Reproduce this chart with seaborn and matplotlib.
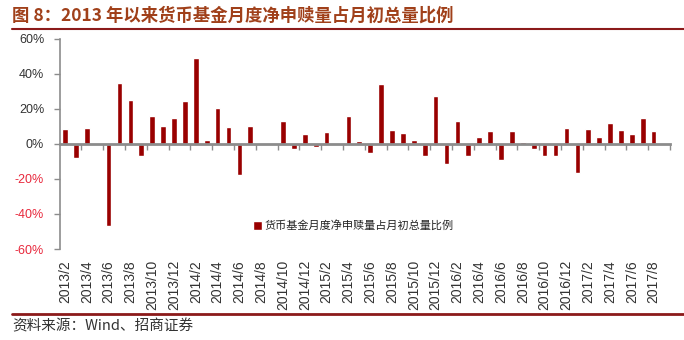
import numpy as np
import pandas as pd
import matplotlib
matplotlib.use("Agg")
import matplotlib.pyplot as plt
from matplotlib.lines import Line2D
import seaborn as sns

# Monthly labels, 2013/2 .. 2017/8
months = [f"{p.year}/{p.month}" for p in pd.period_range("2013-02", "2017-08", freq="M")]

# Net subscription/redemption as % of month-start total size
net_ratio = [
    8.2, -8.4, 9.1, -0.8, -46.9, 34.7, 24.8, -7.2, 16.0, 9.9,
    14.5, 24.2, 49.1, 2.3, 20.2, 9.7, -17.7, 10.3, 0.0, -0.8,
    13.1, -3.2, 5.3, -2.1, 6.5, -0.3, 15.8, 1.7, -5.5, 33.9,
    8.0, 5.9, 1.9, -7.2, 27.2, -11.8, 13.0, -6.7, 4.0, 7.0,
    -9.1, 7.2, 0.8, -2.9, -6.7, -7.2, 9.1, -16.4, 8.2, 3.6,
    12.0, 7.6, 5.7, 14.9, 7.4,
]

series_name = "货币基金月度净申赎量占月初总量比例"
title_text = "图 8：2013 年以来货币基金月度净申赎量占月初总量比例"
source_text = "资料来源：Wind、招商证券"
y_ticks = [-60, -40, -20, 0, 20, 40, 60]

bar_color = "#990000"
axis_gray = "#8C8C8C"
rule_color = "#8B1A1A"

sns.set_theme(style="white")
plt.rcParams["font.family"] = ["Noto Sans CJK SC", "DejaVu Sans"]

W, H = 684, 340
fig = plt.figure(figsize=(W / 100, H / 100), dpi=100)
ax = fig.add_axes([59.5 / W, 1 - 249 / H, (670 - 59.5) / W, (249 - 38.5) / H])

df = pd.DataFrame({"month": months, "ratio": net_ratio, "series": series_name})
sns.barplot(data=df, x="month", y="ratio", hue="series", palette=[bar_color],
            width=0.52, dodge=False, ax=ax, saturation=1)

n = len(months)
ax.set_xlim(-0.5, n + 0.5)
ax.set_ylim(-60, 60)
ax.set_xlabel("")
ax.set_ylabel("")

# y axis
ax.set_yticks(y_ticks)
ax.set_yticklabels([f"{v}%" for v in y_ticks], family=["Liberation Sans", "DejaVu Sans"], fontsize=9)
for lbl, v in zip(ax.get_yticklabels(), y_ticks):
    lbl.set_color("#E8283C" if v < 0 else "#333333")
ax.tick_params(axis="y", left=True, length=4, width=1, color=axis_gray, pad=7)

# spines: left axis and a zero line carrying the category ticks
for s in ("top", "right"):
    ax.spines[s].set_visible(False)
ax.spines["left"].set_color(axis_gray)
ax.spines["left"].set_linewidth(1.2)
ax.spines["bottom"].set_position(("data", 0))
ax.spines["bottom"].set_color(axis_gray)
ax.spines["bottom"].set_linewidth(2)
ax.set_xticks(np.arange(1.5, n + 1, 2))
ax.set_xticklabels([])
ax.tick_params(axis="x", bottom=True, length=4, width=1, color=axis_gray, direction="out")

# month labels along the bottom of the plot area
sec = ax.secondary_xaxis("bottom")
sec.set_xticks(range(0, n, 2))
sec.set_xticklabels(months[::2], rotation=90, family=["Liberation Sans", "DejaVu Sans"],
                    fontsize=10, color="#333333")
sec.tick_params(length=0, pad=8)
sec.spines["bottom"].set_visible(False)

# legend
handles, labels = ax.get_legend_handles_labels()
ax.legend(handles, labels, loc="center left", bbox_to_anchor=(0.30, 0.11), frameon=False,
          fontsize=8, handlelength=0.8, handleheight=0.8, handletextpad=0.3,
          labelcolor="#222222")

# heading, rules and source note
fig.text(12 / W, 1 - 16 / H, title_text, fontsize=12.5, fontweight="bold",
         color="#A0401A", va="center", ha="left")
fig.add_artist(Line2D([12 / W, 1], [1 - 29 / H] * 2, color=rule_color, lw=1.5))
fig.add_artist(Line2D([12 / W, 1], [1 - 314 / H] * 2, color=rule_color, lw=2))
fig.text(12 / W, 1 - 326 / H, source_text, fontsize=10.5, color="#333333",
         va="center", ha="left")

fig.savefig("out.png", dpi=100)
